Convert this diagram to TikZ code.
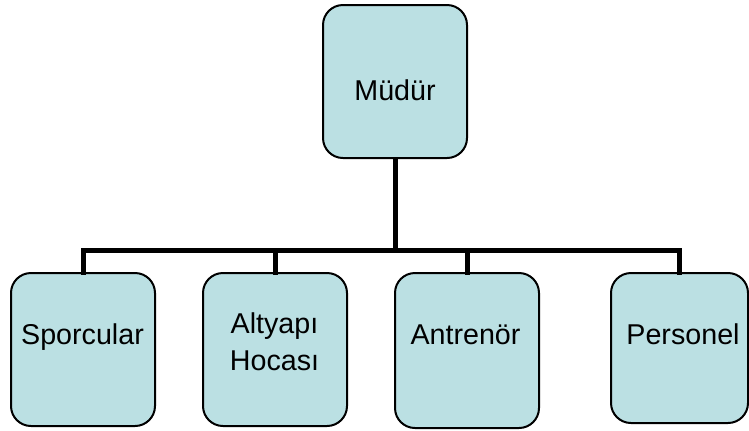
\documentclass[tikz,border=0pt]{standalone}
\usepackage{fontspec}
\setmainfont{Liberation Sans}
\usepackage{tikz}
\usetikzlibrary{positioning}

\definecolor{cardfill}{RGB}{187,224,227}

\tikzset{
  card/.style={draw=black, fill=cardfill, line width=1.5pt, rounded corners=15pt,
               minimum width=108pt, minimum height=114.75pt, inner sep=0pt},
  lbl/.style={inner sep=0pt, align=center, font=\fontsize{21.5}{27.75}\selectfont},
  bus/.style={line width=3.75pt, line cap=rect}
}

\begin{document}
\begin{tikzpicture}[x=0.75pt, y=-0.75pt]
          \useasboundingbox (0,0) rectangle (749,430);
          % kutular
          \node[card] (mudur) at (395,81.5) {};
          \node[card] (sporcular) at (83,349.5) {};
          \node[card] (altyapi) at (275,349.5) {};
          \node[card, minimum height=116.25pt] (antrenor) at (467,350.5) {};
          \node[card, minimum width=102.75pt, minimum height=112.5pt] (personel) at (679.5,348) {};
          % baglantilar
          \coordinate (hub) at (395,250);
          \draw[bus] (mudur.south) -- (hub);
          \draw[bus] (sporcular.north) |- (hub) -| (personel.north);
          \draw[bus] (altyapi.north) -- (altyapi.north |- hub);
          \draw[bus] (antrenor.north) -- (antrenor.north |- hub);
          % yazilar
          \node[lbl, anchor=base] (mudurText) at (395,100.7) {Müdür};
          \node[lbl, anchor=base] (sporcularText) at (82.5,344) {Sporcular};
          \node[lbl] (altyapiText) at (274.5,341.5) {Altyapı\\Hocası};
          \node[lbl, anchor=base] (antrenorText) at (465.5,344) {Antrenör};
          \node[lbl, anchor=base] (personelText) at (683,344) {Personel};
        \end{tikzpicture}
\end{document}
